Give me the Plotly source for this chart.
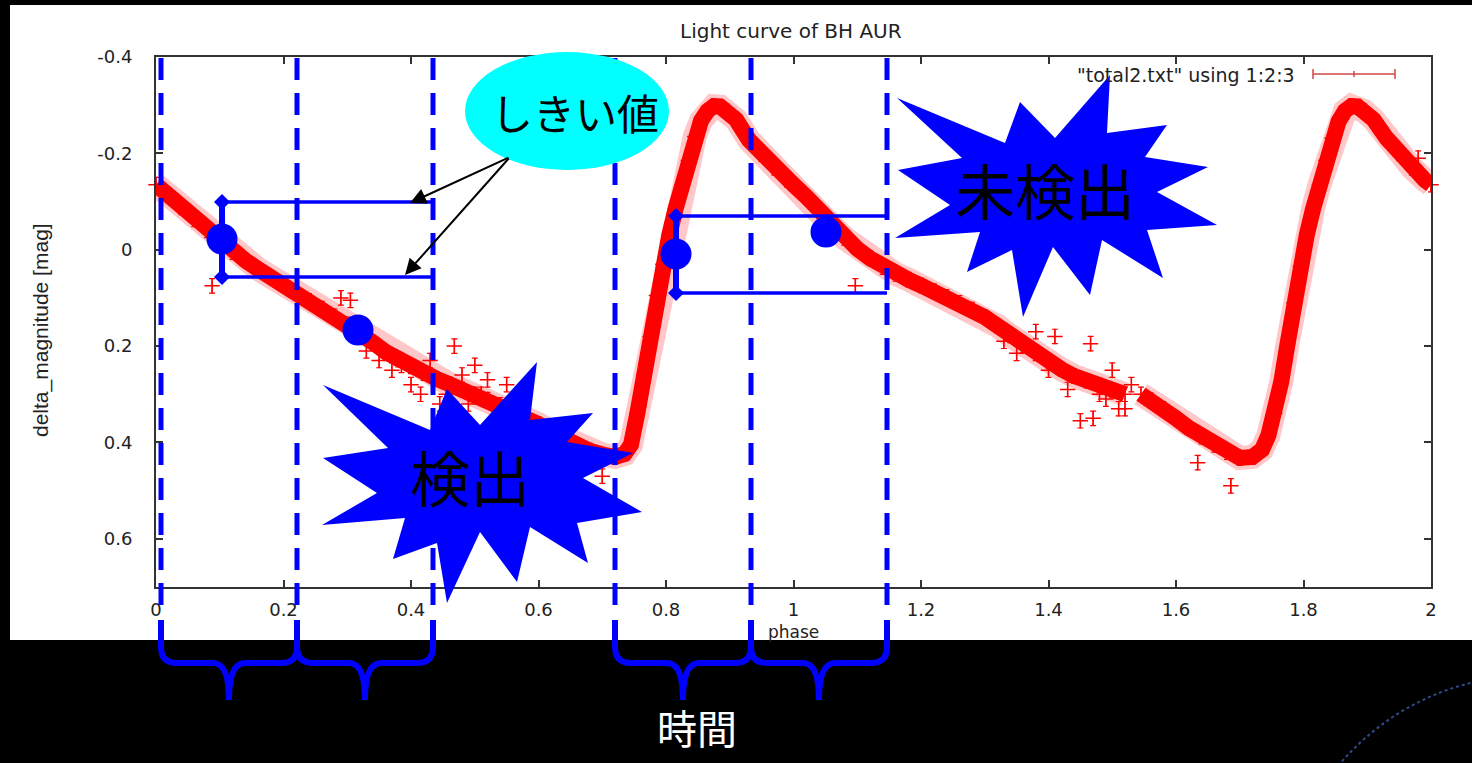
import plotly.graph_objects as go

# ---------------- data ----------------
phase_c1 = [0.00, 0.02, 0.04, 0.06, 0.08, 0.10, 0.12, 0.14, 0.16, 0.18, 0.20, 0.22, 0.24, 0.26,
            0.28, 0.30, 0.32, 0.34, 0.36, 0.38, 0.40, 0.42, 0.44, 0.46, 0.48, 0.50, 0.52, 0.54,
            0.56, 0.58, 0.60, 0.62, 0.64, 0.66, 0.68, 0.70, 0.72, 0.735, 0.745, 0.755, 0.765,
            0.775, 0.785, 0.795, 0.805, 0.815, 0.825, 0.835, 0.845, 0.855, 0.865, 0.875, 0.885,
            0.895, 0.91, 0.93, 0.95, 0.97, 0.99]
mag_c1 = [-0.135, -0.112, -0.088, -0.063, -0.040, -0.015, 0.005, 0.022, 0.040, 0.056, 0.072, 0.090,
          0.106, 0.122, 0.138, 0.155, 0.172, 0.192, 0.212, 0.228, 0.242, 0.256, 0.268, 0.279, 0.290,
          0.300, 0.311, 0.322, 0.334, 0.348, 0.362, 0.378, 0.393, 0.406, 0.417, 0.425, 0.430, 0.424,
          0.405, 0.340, 0.260, 0.180, 0.095, 0.030, -0.030, -0.085, -0.135, -0.185, -0.235, -0.268,
          -0.288, -0.298, -0.297, -0.288, -0.270, -0.228, -0.198, -0.170, -0.145]
phase_c2 = [1.00, 1.02, 1.04, 1.06, 1.08, 1.10, 1.12, 1.14, 1.16, 1.18, 1.20, 1.22, 1.24, 1.26,
            1.28, 1.30, 1.32, 1.34, 1.36, 1.38, 1.40, 1.42, 1.44, 1.46, 1.48, 1.50, 1.52, None,
            1.545, 1.56, 1.58, 1.60, 1.62, 1.64, 1.66, 1.68, 1.70, 1.72, 1.735, 1.745, 1.755,
            1.765, 1.775, 1.785, 1.795, 1.805, 1.815, 1.825, 1.835, 1.845, 1.855, 1.865, 1.875,
            1.885, 1.895, 1.91, 1.93, 1.95, 1.97, 1.99, 2.00]
mag_c2 = [-0.135, -0.110, -0.080, -0.050, -0.024, -0.002, 0.018, 0.036, 0.050, 0.062, 0.074, 0.086,
          0.098, 0.110, 0.124, 0.140, 0.158, 0.178, 0.198, 0.215, 0.232, 0.248, 0.262, 0.272, 0.282,
          0.292, 0.300, None, 0.300, 0.312, 0.330, 0.350, 0.370, 0.388, 0.405, 0.420, 0.432, 0.430,
          0.415, 0.385, 0.340, 0.275, 0.195, 0.110, 0.035, -0.030, -0.085, -0.135, -0.185, -0.232,
          -0.266, -0.288, -0.298, -0.297, -0.288, -0.270, -0.232, -0.200, -0.170, -0.145, -0.135]
# scattered individual measurements away from the main band
out_phase = [0.088, 0.29, 0.305, 0.33, 0.35, 0.37, 0.385, 0.40, 0.415, 0.43, 0.445, 0.455, 0.468,
             0.48, 0.49, 0.50, 0.51, 0.52, 0.535, 0.47, 0.55, 0.57, 0.70,
             1.097, 1.33, 1.35, 1.38, 1.40, 1.41, 1.43, 1.45, 1.466, 1.47, 1.48, 1.49, 1.50,
             1.51, 1.52, 1.53, 1.634, 1.686, 1.98]
out_mag = [0.075, 0.100, 0.105, 0.210, 0.230, 0.250, 0.240, 0.280, 0.300, 0.230, 0.320, 0.300,
           0.200, 0.260, 0.320, 0.240, 0.300, 0.270, 0.330, 0.330, 0.280, 0.370, 0.470,
           0.075, 0.190, 0.215, 0.170, 0.250, 0.180, 0.290, 0.355, 0.195, 0.350, 0.300, 0.310,
           0.250, 0.330, 0.330, 0.280, 0.442, 0.490, -0.190]

x_ticks = [0, 0.2, 0.4, 0.6, 0.8, 1.0, 1.2, 1.4, 1.6, 1.8, 2.0]
x_labels = ["0", "0.2", "0.4", "0.6", "0.8", "1", "1.2", "1.4", "1.6", "1.8", "2"]
y_ticks = [-0.4, -0.2, 0, 0.2, 0.4, 0.6]
y_labels = ["-0.4", "-0.2", "0", "0.2", "0.4", "0.6"]

# ---------------- geometry helpers (pixel -> paper) ----------------
L, R, T, B = 156, 1431, 57, 587
W, H = R - L, B - T


def X(px):
    return (px - L) / W


def Y(py):
    return (B - py) / H


def poly(points, close=True):
    s = "M " + " L ".join(f"{X(a):.5f},{Y(b):.5f}" for a, b in points)
    return s + (" Z" if close else "")


def brace(xa, xb, top=620, yh=663, tip=700, r=16):
    xm = (xa + xb) / 2
    p = lambda a, b: f"{X(a):.5f},{Y(b):.5f}"
    return (f"M {p(xa, top)} L {p(xa, yh - r)} Q {p(xa, yh)} {p(xa + r, yh)} "
            f"L {p(xm - r, yh)} Q {p(xm, yh)} {p(xm, tip)} Q {p(xm, yh)} {p(xm + r, yh)} "
            f"L {p(xb - r, yh)} Q {p(xb, yh)} {p(xb, yh - r)} L {p(xb, top)}")


BLUE = "#0000FF"
shapes = []
# white picture background
shapes.append(dict(type="rect", xref="paper", yref="paper", x0=X(10), x1=X(1472), y0=Y(640), y1=Y(5),
                   fillcolor="white", line_width=0, layer="below"))
# faint slide decoration curve
shapes.append(dict(type="path", xref="paper", yref="paper",
                   path=f"M {X(1338):.5f},{Y(766):.5f} Q {X(1392):.5f},{Y(702):.5f} {X(1474):.5f},{Y(682):.5f}",
                   line=dict(color="#2c4c8e", width=2, dash="dot"), fillcolor="rgba(0,0,0,0)", layer="below"))

# dashed vertical separators
for px in [161, 297, 433, 615, 751, 887]:
    shapes.append(dict(type="line", xref="paper", yref="paper", x0=X(px), x1=X(px), y0=Y(58), y1=Y(612),
                       line=dict(color=BLUE, width=5, dash="22px,13px"), layer="above"))
# braces
for xa, xb in [(161, 297), (297, 433), (615, 751), (751, 887)]:
    shapes.append(dict(type="path", xref="paper", yref="paper", path=brace(xa, xb),
                       line=dict(color=BLUE, width=6), fillcolor="rgba(0,0,0,0)", layer="above"))

# threshold boxes
for cx, ytop, ybot, xend in [(222, 202, 277, 433), (676, 216, 293, 887)]:
    for yy in (ytop, ybot):
        shapes.append(dict(type="line", xref="paper", yref="paper", x0=X(cx), x1=X(xend), y0=Y(yy), y1=Y(yy),
                           line=dict(color=BLUE, width=3.5), layer="above"))
        shapes.append(dict(type="path", xref="paper", yref="paper",
                           path=poly([(cx - 8, yy), (cx, yy - 8), (cx + 8, yy), (cx, yy + 8)]),
                           fillcolor=BLUE, line_width=0, layer="above"))
    shapes.append(dict(type="line", xref="paper", yref="paper", x0=X(cx), x1=X(cx), y0=Y(ytop), y1=Y(ybot),
                       line=dict(color=BLUE, width=6), layer="above"))
# blue dots
for cx, cy in [(222, 239), (358, 330), (676, 254), (826, 232)]:
    shapes.append(dict(type="circle", xref="paper", yref="paper", x0=X(cx - 15.5), x1=X(cx + 15.5),
                       y0=Y(cy + 15.5), y1=Y(cy - 15.5), fillcolor=BLUE, line_width=0, layer="above"))

# cyan callout ellipse
shapes.append(dict(type="circle", xref="paper", yref="paper", x0=X(465), x1=X(669), y0=Y(170), y1=Y(52),
                   fillcolor="#00FFFF", line_width=0, layer="above"))

# starbursts
star1 = [(323, 385), (430, 430), (447, 389), (480, 425), (537, 362), (530, 420), (593, 413), (567, 442),
         (633, 453), (583, 478), (642, 512), (577, 523), (588, 563), (530, 527), (517, 582), (480, 532),
         (447, 603), (437, 543), (393, 559), (405, 518), (322, 525), (377, 493), (323, 458), (388, 448)]
star2 = [(897, 98), (1005, 143), (1020, 102), (1055, 138), (1110, 75), (1107, 133), (1167, 125),
         (1145, 157), (1208, 167), (1157, 192), (1217, 225), (1147, 230), (1163, 278), (1102, 240),
         (1090, 295), (1053, 247), (1023, 317), (1012, 250), (967, 272), (980, 232), (895, 238),
         (950, 205), (898, 170), (962, 158)]
for st in (star1, star2):
    shapes.append(dict(type="path", xref="paper", yref="paper", path=poly(st),
                       fillcolor=BLUE, line_width=0, layer="above"))

# legend sample (error bar key)
LEG = "#d04848"
shapes.append(dict(type="line", xref="paper", yref="paper", x0=X(1313), x1=X(1395), y0=Y(74), y1=Y(74),
                   line=dict(color=LEG, width=1.5), layer="above"))
for px, hh in [(1313, 5), (1395, 5), (1354, 3)]:
    shapes.append(dict(type="line", xref="paper", yref="paper", x0=X(px), x1=X(px), y0=Y(74 - hh), y1=Y(74 + hh),
                       line=dict(color=LEG, width=1.5), layer="above"))

# ---------------- annotations ----------------
SANS = "DejaVu Sans, Liberation Sans, Arial"
CJK = "Noto Sans CJK JP"
ann = []


def label(px, py, text, font, **kw):
    d = dict(x=X(px), y=Y(py), xref="paper", yref="paper", text=text, showarrow=False,
             xanchor="center", yanchor="middle", font=font)
    d.update(kw)
    ann.append(d)


label(791, 31, "Light curve of BH AUR", dict(family=SANS, size=20, color="#222"))
label(793, 632, "phase", dict(family=SANS, size=17, color="#222"))
label(41, 330, "delta_magnitude [mag]", dict(family="Liberation Sans Narrow, Liberation Sans", size=21, color="#222"),
      textangle=-90)
label(1297, 75, '"total2.txt" using 1:2:3', dict(family=SANS, size=19, color="#222"), xanchor="right")
label(575, 112, "しきい値", dict(family=CJK, size=42, color="black"))
label(470, 476, "検出", dict(family=CJK, size=60, color="black"))
label(1045, 189, "未検出", dict(family=CJK, size=60, color="black"))
label(697, 727, "時間", dict(family=CJK, size=40, color="white"))
for hx, hy in [(410, 203), (405, 275)]:
    ann.append(dict(x=X(hx), y=Y(hy), xref="paper", yref="paper", text="", showarrow=True,
                    ax=510 - hx, ay=157 - hy, arrowhead=2, arrowsize=1.6, arrowwidth=2, arrowcolor="black"))

# ---------------- traces ----------------
band_x = phase_c1 + phase_c2
band_y = mag_c1 + mag_c2
pts_x = [v for v in band_x if v is not None] + out_phase
pts_y = [v for v in band_y if v is not None] + out_mag

fig = go.Figure()
fig.add_trace(go.Scatter(x=band_x, y=band_y, mode="lines", line=dict(color="rgba(255,0,0,0.22)", width=24),
                         hoverinfo="skip", connectgaps=False))
fig.add_trace(go.Scatter(x=band_x, y=band_y, mode="lines", line=dict(color="#FF0000", width=16),
                         hoverinfo="skip", connectgaps=False))
fig.add_trace(go.Scatter(x=pts_x, y=pts_y, mode="markers", cliponaxis=False,
                         marker=dict(symbol="cross-thin", size=11, line=dict(color="#FF0000", width=1.5)),
                         error_y=dict(type="constant", value=0.015, color="#FF0000", thickness=1.2, width=3),
                         name='"total2.txt" using 1:2:3'))

axis_common = dict(ticks="inside", ticklen=7, tickwidth=1.5, tickcolor="#333", showline=True, linewidth=2,
                   linecolor="#333", mirror="ticks", showgrid=False, zeroline=False,
                   tickfont=dict(family=SANS, size=18, color="#222"))
fig.update_layout(
    width=1472, height=763,
    margin=dict(l=L, r=1472 - R, t=T, b=763 - B),
    paper_bgcolor="black", plot_bgcolor="white",
    showlegend=False,
    xaxis=dict(range=[0, 2], tickvals=x_ticks, ticktext=x_labels, ticklabelstandoff=5, **axis_common),
    yaxis=dict(range=[0.7, -0.4], tickvals=y_ticks, ticktext=y_labels, ticklabelstandoff=18, **axis_common),
    shapes=shapes, annotations=ann,
)
fig.write_html("out.html")
